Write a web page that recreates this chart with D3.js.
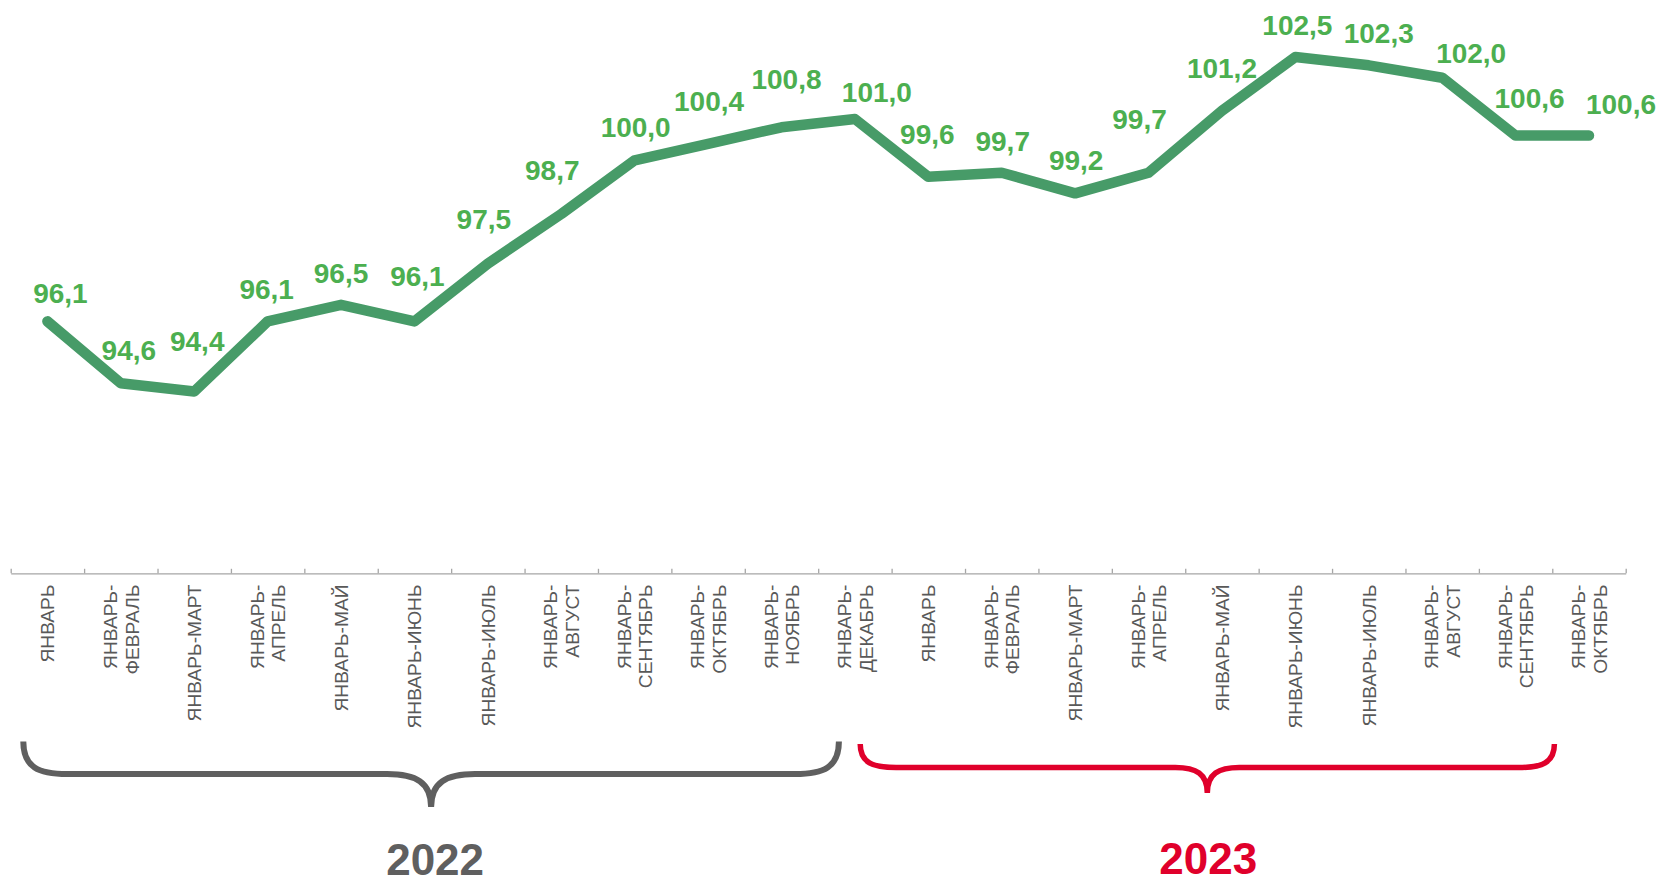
<!DOCTYPE html>
<html>
<head>
<meta charset="utf-8">
<script src="https://cdn.jsdelivr.net/npm/d3@7"></script>
<style>
  html, body { margin: 0; padding: 0; background: #ffffff; }
  svg { display: block; }
</style>
</head>
<body>
<svg id="chart" width="1658" height="878"></svg>
<script>
// ---- data ----
const months2022 = ["ЯНВАРЬ", "ЯНВАРЬ-ФЕВРАЛЬ", "ЯНВАРЬ-МАРТ", "ЯНВАРЬ-АПРЕЛЬ", "ЯНВАРЬ-МАЙ", "ЯНВАРЬ-ИЮНЬ",
  "ЯНВАРЬ-ИЮЛЬ", "ЯНВАРЬ-АВГУСТ", "ЯНВАРЬ-СЕНТЯБРЬ", "ЯНВАРЬ-ОКТЯБРЬ", "ЯНВАРЬ-НОЯБРЬ", "ЯНВАРЬ-ДЕКАБРЬ"];
const months2023 = ["ЯНВАРЬ", "ЯНВАРЬ-ФЕВРАЛЬ", "ЯНВАРЬ-МАРТ", "ЯНВАРЬ-АПРЕЛЬ", "ЯНВАРЬ-МАЙ", "ЯНВАРЬ-ИЮНЬ",
  "ЯНВАРЬ-ИЮЛЬ", "ЯНВАРЬ-АВГУСТ", "ЯНВАРЬ-СЕНТЯБРЬ", "ЯНВАРЬ-ОКТЯБРЬ"];
const values2022 = [96.1, 94.6, 94.4, 96.1, 96.5, 96.1, 97.5, 98.7, 100.0, 100.4, 100.8, 101.0];
const values2023 = [99.6, 99.7, 99.2, 99.7, 101.2, 102.5, 102.3, 102.0, 100.6, 100.6];
const yearLabels = ["2022", "2023"];

// ---- layout (label nudges relative to each point, px) ----
const labelDx = [13, 8, 3, -1, 0, 3, -4, -9, 1, 1, 5, 22, -1, 1, 1, -9, 0, 2, 10, 29, 14, 32];
const labelDy = [-18, -23, -41, -22, -22, -35, -35, -34, -23, -33, -38, -17, -33, -22, -23, -44, -33, -22, -22, -15, -28, -22];

const categories = months2022.concat(months2023);
const values = values2022.concat(values2023);
const data = values.map((v, i) => ({ i, v, cat: categories[i] }));

const svg = d3.select("#chart");

const x = d3.scaleBand().domain(d3.range(categories.length)).range([10.7, 1625.7]).padding(0);
const xEdge = d3.scaleLinear().domain([0, categories.length]).range(x.range());
const y = d3.scaleLinear().domain([90, 104]).range([573.3, 573.3 - 14 * 41.3]);
const cx = i => x(i) + x.bandwidth() / 2;

// axis with inward ticks on band edges
const axis = svg.append("g")
  .attr("transform", "translate(0,573.3)")
  .call(d3.axisBottom(xEdge).tickValues(d3.range(categories.length + 1)).tickSize(-4.5).tickSizeOuter(0).tickFormat(""));
axis.select(".domain").attr("stroke", "#a6a6a6").attr("stroke-width", 1.3);
axis.selectAll(".tick line").attr("stroke", "#a6a6a6").attr("stroke-width", 1.3);

// category labels (rotated, possibly two lines)
const labG = svg.append("g")
  .attr("font-family", "'Liberation Sans', Arial, sans-serif")
  .attr("font-size", 19.2)
  .attr("fill", "#595959");
data.forEach(d => {
  const parts = d.cat.indexOf("-") >= 0 && d.cat.length > 11
    ? [d.cat.slice(0, d.cat.indexOf("-") + 1), d.cat.slice(d.cat.indexOf("-") + 1)]
    : [d.cat];
  const lh = 21.6;
  parts.forEach((p, k) => {
    const off = (k - (parts.length - 1) / 2) * lh;
    labG.append("text")
      .attr("transform", `translate(${cx(d.i) + off},584.5) rotate(-90)`)
      .attr("text-anchor", "end")
      .attr("dy", "0.36em")
      .text(p);
  });
});

// line
const line = d3.line().x(d => cx(d.i)).y(d => y(d.v));
svg.append("path")
  .datum(data)
  .attr("d", line)
  .attr("fill", "none")
  .attr("stroke", "#479b68")
  .attr("stroke-width", 10.5)
  .attr("stroke-linecap", "round")
  .attr("stroke-linejoin", "round");

// value labels
svg.append("g")
  .attr("font-family", "'Liberation Sans', Arial, sans-serif")
  .attr("font-weight", "bold")
  .attr("font-size", 28)
  .attr("fill", "#4caf50")
  .attr("text-anchor", "middle")
  .selectAll("text")
  .data(data)
  .join("text")
  .attr("x", d => cx(d.i) + labelDx[d.i])
  .attr("y", d => y(d.v) + labelDy[d.i])
  .text(d => d.v.toFixed(1).replace(".", ","));

// braces
function brace(x0, x1, yTop, yMid, yTip, rw, tw) {
  const m = (x0 + x1) / 2;
  return `M${x0},${yTop} C${x0},${yMid - (yMid - yTop) * 0.2} ${x0 + rw * 0.35},${yMid} ${x0 + rw},${yMid}` +
    ` L${m - tw},${yMid} C${m - tw * 0.35},${yMid} ${m},${yMid + (yTip - yMid) * 0.25} ${m},${yTip}` +
    ` C${m},${yMid + (yTip - yMid) * 0.25} ${m + tw * 0.35},${yMid} ${m + tw},${yMid}` +
    ` L${x1 - rw},${yMid} C${x1 - rw * 0.35},${yMid} ${x1},${yMid - (yMid - yTop) * 0.2} ${x1},${yTop}`;
}
const b1x0 = xEdge(0) + 12.6, b1x1 = xEdge(12) - 52.7;
const b2x0 = xEdge(12) - 31.4, b2x1 = xEdge(22) - 71.3;
svg.append("path")
  .attr("d", brace(b1x0, b1x1, 741.5, 774, 807, 44, 44))
  .attr("fill", "none").attr("stroke", "#5f5f5f").attr("stroke-width", 6);
svg.append("path")
  .attr("d", brace(b2x0, b2x1, 744, 767.5, 793, 36, 32))
  .attr("fill", "none").attr("stroke", "#e0002b").attr("stroke-width", 5.5);

// year labels
const yearG = svg.append("g")
  .attr("font-family", "'Liberation Sans', Arial, sans-serif")
  .attr("font-weight", "bold")
  .attr("font-size", 44)
  .attr("text-anchor", "middle");
yearG.append("text").attr("x", (b1x0 + b1x1) / 2 + 4).attr("y", 875).attr("fill", "#5f5f5f").text(yearLabels[0]);
yearG.append("text").attr("x", (b2x0 + b2x1) / 2 + 1).attr("y", 874).attr("fill", "#e0002b").text(yearLabels[1]);
</script>
</body>
</html>
